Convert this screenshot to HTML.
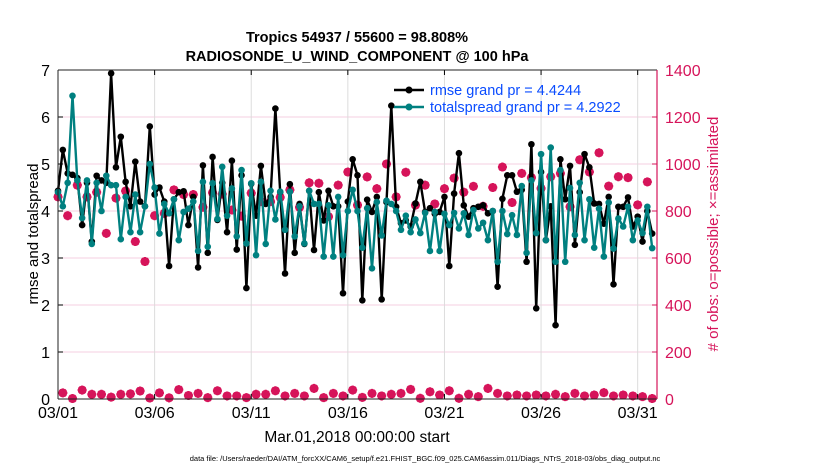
<!DOCTYPE html>
<html><head><meta charset="utf-8">
<style>
body{margin:0;background:#fff;}
svg{display:block;font-family:"Liberation Sans",sans-serif;}
</style></head>
<body>
<svg id="chart" width="830" height="470" viewBox="0 0 830 470" xmlns="http://www.w3.org/2000/svg">
<rect width="830" height="470" fill="#fff"/>
<text x="357" y="42" text-anchor="middle" font-size="14.5" font-weight="bold">Tropics 54937 / 55600 = 98.808%</text>
<text x="357" y="61" text-anchor="middle" font-size="14.5" font-weight="bold">RADIOSONDE_U_WIND_COMPONENT @ 100 hPa</text>
<g id="grid"></g>
<g id="marks"></g>
<g id="axes"></g>
<text transform="translate(38,234) rotate(-90)" text-anchor="middle" font-size="15">rmse and totalspread</text>
<text transform="translate(718,234) rotate(-90)" text-anchor="middle" font-size="15" fill="#d6145a"># of obs: o=possible; ×=assimilated</text>
<text x="357" y="442" text-anchor="middle" font-size="15.5">Mar.01,2018 00:00:00 start</text>
<text x="425" y="461" text-anchor="middle" font-size="7.5">data file: /Users/raeder/DAI/ATM_forcXX/CAM6_setup/f.e21.FHIST_BGC.f09_025.CAM6assim.011/Diags_NTrS_2018-03/obs_diag_output.nc</text>
<g id="legend">
  <line x1="394" y1="90" x2="424" y2="90" stroke="#000" stroke-width="2.5"/>
  <circle cx="409" cy="90" r="3.5" fill="#000"/>
  <text x="430" y="95" font-size="14.5" fill="#0a4cff">rmse grand pr = 4.4244</text>
  <line x1="394" y1="107" x2="424" y2="107" stroke="#008080" stroke-width="2.5"/>
  <circle cx="409" cy="107" r="3.5" fill="#008080"/>
  <text x="430" y="112" font-size="14.5" fill="#0a4cff">totalspread grand pr = 4.2922</text>
</g>
</svg>
<script>
const rmse = [4.43,5.3,4.8,4.77,4.7,3.7,4.6,3.35,4.75,4.65,4.6,6.93,4.93,5.58,4.62,4.1,5.05,4.2,4.1,5.8,4.35,4.5,4.2,2.83,4.25,4.4,4.42,3.7,4.3,2.8,
4.97,3.11,5.15,3.81,4.6,3.55,5.07,3.18,4.76,2.36,4.58,3.9,4.96,4.15,4.3,6.18,4.4,2.67,4.57,3.11,4.15,3.3,4.43,3.17,4.4,3.8,4.43,4.1,4.1,2.25,4.2,
5.1,4.76,2.1,4.24,3.98,4.3,2.12,4.19,6.24,4.09,3.74,3.8,3.67,4.16,4.62,3.98,4.06,3.94,3.98,4.3,2.83,4.37,5.23,4.12,3.88,4.06,4.09,4.12,3.95,
4.0,2.39,4.26,4.76,4.76,4.41,4.45,2.92,5.42,1.93,4.83,3.38,4.1,1.57,5.1,4.25,4.96,3.28,4.4,5.21,4.93,4.16,4.15,3.73,4.3,2.44,4.09,4.09,4.29,3.67,3.88,3.35,4.0,3.52];
const spread = [4.4,4.1,4.6,6.45,4.65,3.85,4.65,3.3,4.6,4.0,4.75,4.55,4.55,3.4,4.3,3.55,4.35,3.55,4.1,5.0,4.5,3.52,4.15,3.95,4.25,3.38,3.98,4.05,4.2,3.15,
4.62,3.24,4.59,3.83,4.94,3.9,4.48,3.46,4.87,3.31,4.59,3.06,4.62,3.3,4.43,3.82,4.41,3.6,4.41,3.46,4.1,3.31,4.43,4.15,4.15,3.03,4.12,3.03,4.3,3.06,4.0,
4.45,4.0,3.22,4.06,2.78,4.19,3.48,4.22,4.15,4.0,3.6,3.9,3.55,3.82,3.53,3.96,3.15,3.98,3.15,3.94,3.7,3.96,3.63,3.95,3.49,4.02,3.63,3.75,3.38,
4.0,2.92,4.0,3.51,3.91,3.49,4.53,3.11,4.65,3.53,5.21,3.38,5.35,2.92,4.87,2.92,4.49,3.49,4.6,3.38,4.25,3.22,4.05,3.03,4.18,3.2,3.84,3.67,4.09,3.38,3.8,3.53,4.09,3.21];
// obs counts at 00Z/12Z (even indices)
const obsMain = [860,780,910,860,880,705,855,885,670,585,780,790,890,870,870,
816,878,872,804,778,876,840,840,858,890,816,920,918,776,910,966,
825,945,895,1000,860,965,825,910,830,895,940,880,905,820,
900,987,836,960,942,896,946,960,818,1018,966,1048,906,946,942,826,924];
// obs counts at 06Z/18Z (odd indices)
const obsOff = [26,2,38,20,20,8,20,22,34,4,26,5,40,15,
24,6,35,13,13,6,20,20,35,13,24,13,45,6,24,13,
38,7,24,13,20,24,41,3,31,17,35,3,20,10,45,24,
13,17,13,17,13,20,10,24,13,17,27,13,17,13,10,2];
const xTickDays = [0,5,10,15,20,25,30];
const xTickLabels = ["03/01","03/06","03/11","03/16","03/21","03/26","03/31"];
const yLeftTicks = [0,1,2,3,4,5,6,7];
const yRightTicks = [0,200,400,600,800,1000,1200,1400];

const NS="http://www.w3.org/2000/svg";
const X0=58,X1=657,Y0=399,Y1=70;
const xDay=d=>X0+(X1-X0)*d/31;
const yL=v=>Y0-(Y0-Y1)*v/7;
const yR=v=>Y0-(Y0-Y1)*v/1400;
function mk(tag,attrs,parent){const e=document.createElementNS(NS,tag);for(const k in attrs)e.setAttribute(k,attrs[k]);parent.appendChild(e);return e;}
const grid=document.getElementById('grid'),marks=document.getElementById('marks'),axes=document.getElementById('axes');
const PINK="#d6145a";

yLeftTicks.forEach(v=>{
  if(v>0&&v<7){const g=mk('line',{x1:X0,x2:X1,y1:yL(v),y2:yL(v),stroke:"#f6cfe0","stroke-width":1},grid);
  
  }
  const t=mk('text',{x:X0-8,y:yL(v)+6,"text-anchor":"end","font-size":16},axes);t.textContent=v;
  
  
  mk('line',{x1:X0,x2:X0+5,y1:yL(v),y2:yL(v),stroke:"#000"},axes);
});
yRightTicks.forEach(v=>{
  const t=mk('text',{x:X1+8,y:yR(v)+6,"font-size":16,fill:PINK},axes);t.textContent=v;
  
  
  mk('line',{x1:X1-5,x2:X1,y1:yR(v),y2:yR(v),stroke:PINK},axes);
});
xTickDays.forEach((d,i)=>{
  if(d>0){const g=mk('line',{x1:xDay(d),x2:xDay(d),y1:Y1,y2:Y0,stroke:"#dcdcdc","stroke-width":1},grid);
  
  }
  mk('line',{x1:xDay(d),x2:xDay(d),y1:Y0,y2:Y0-5,stroke:"#000"},axes);
  mk('line',{x1:xDay(d),x2:xDay(d),y1:Y1,y2:Y1+5,stroke:"#000"},axes);
  const t=mk('text',{x:xDay(d),y:418,"text-anchor":"middle","font-size":16},axes);t.textContent=xTickLabels[i];
  
  
});
// axis box
mk('line',{x1:X0,x2:X1,y1:Y1,y2:Y1,stroke:"#222"},axes);
mk('line',{x1:X0,x2:X1,y1:Y0,y2:Y0,stroke:"#222"},axes);
mk('line',{x1:X0,x2:X0,y1:Y1,y2:Y0,stroke:"#222"},axes);
mk('line',{x1:X1,x2:X1,y1:Y1,y2:Y0,stroke:PINK,"stroke-width":1.2},axes);

function pinkMarker(cx,cy){
  const g=mk('g',{},marks);
  
  
  mk('circle',{cx:cx,cy:cy,r:3.6,fill:"none",stroke:PINK,"stroke-width":1.6},g);
  mk('path',{d:`M${cx-4.5},${cy}H${cx+4.5}M${cx},${cy-4.5}V${cy+4.5}M${cx-3.2},${cy-3.2}L${cx+3.2},${cy+3.2}M${cx-3.2},${cy+3.2}L${cx+3.2},${cy-3.2}`,stroke:PINK,"stroke-width":2.2},g);
}
obsMain.forEach((v,k)=>pinkMarker(xDay(k*0.5),yR(v)));
obsOff.forEach((v,k)=>pinkMarker(xDay(k*0.5+0.25),yR(v)));

function series(vals,color,name){
  const pts=vals.map((v,i)=>xDay(i*0.25).toFixed(1)+","+yL(v).toFixed(1)).join(" ");
  const pl=mk('polyline',{points:pts,fill:"none",stroke:color,"stroke-width":2.4,"stroke-linejoin":"round"},marks);
  
  
  vals.forEach((v,i)=>{
    const c=mk('circle',{cx:xDay(i*0.25),cy:yL(v),r:3.3,fill:color},marks);
    
    
  });
}
series(rmse,"#000","rmse");
series(spread,"#008080","totalspread");
</script>
</body></html>
